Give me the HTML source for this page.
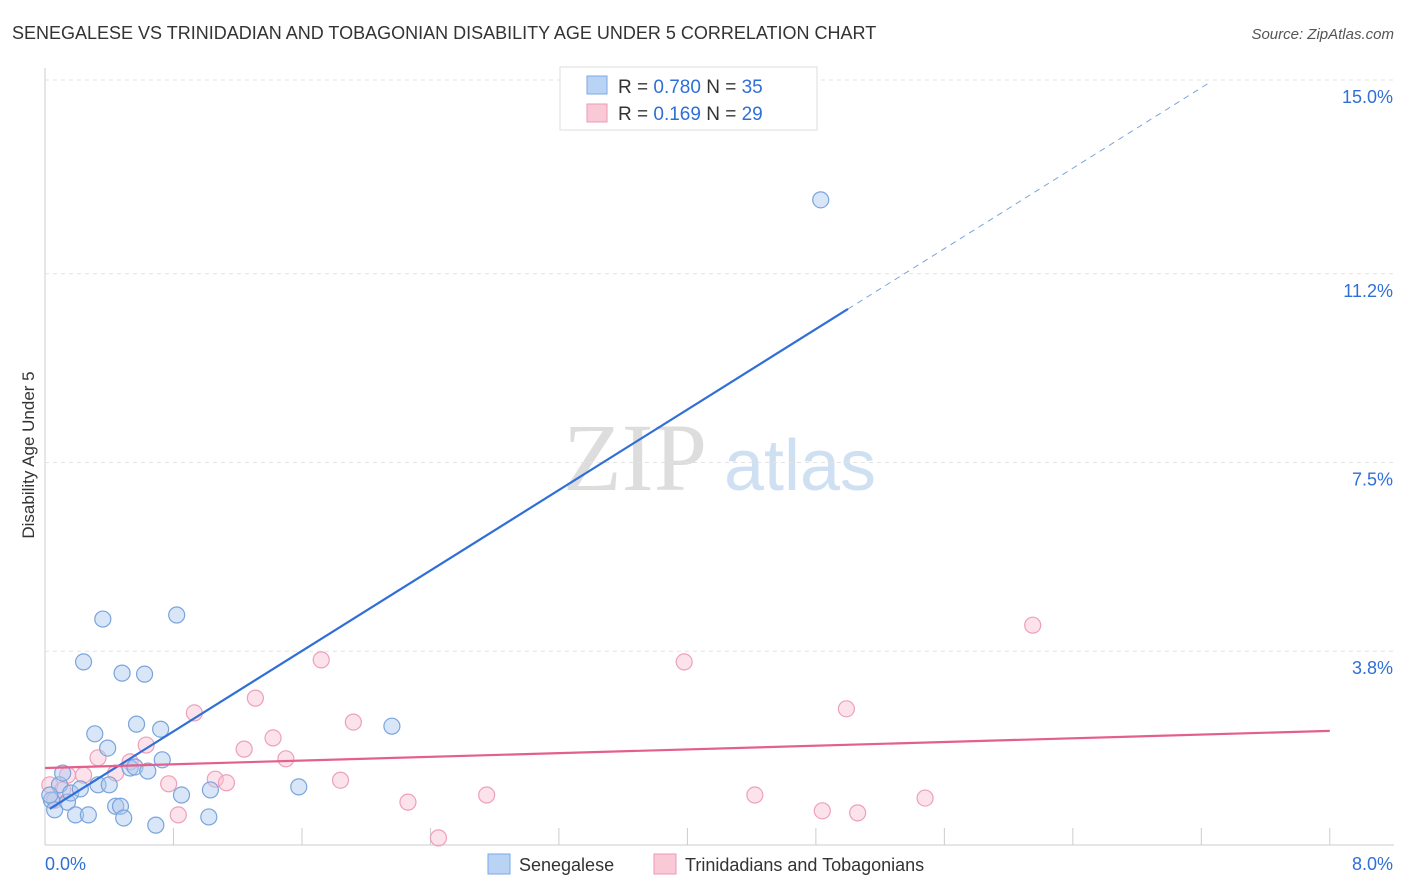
<!DOCTYPE html>
<html><head><meta charset="utf-8"><style>
body{margin:0;background:#fff;font-family:"Liberation Sans",sans-serif}
#c{position:relative;width:1406px;height:892px;overflow:hidden}
</style></head><body>
<div id="c">
<svg id="s" width="1406" height="892" xmlns="http://www.w3.org/2000/svg">
<text x="12" y="39" font-size="18" fill="#333">SENEGALESE VS TRINIDADIAN AND TOBAGONIAN DISABILITY AGE UNDER 5 CORRELATION CHART</text>
<text x="1394" y="39" font-size="15" fill="#555" font-style="italic" text-anchor="end">Source: ZipAtlas.com</text>
<text x="34" y="455" font-size="17" fill="#333" text-anchor="middle" transform="rotate(-90 34 455)">Disability Age Under 5</text>
<g><text x="635" y="490" font-size="96" fill="#ddd" font-family="Liberation Serif,serif" text-anchor="middle">ZIP</text><text x="800" y="490" font-size="72" fill="#cfe0f3" text-anchor="middle">atlas</text></g>
<g id="grid"></g><g id="marks"></g>
<g>
<rect x="560" y="67" width="257" height="63" fill="#fff" stroke="#ddd"/>
<rect x="587" y="76" width="20" height="18" fill="#b9d3f5" stroke="#7aa9e6"/>
<rect x="587" y="104" width="20" height="18" fill="#f9c9d8" stroke="#ee9ab5"/>
<text x="618" y="93" font-size="19" fill="#333">R = <tspan fill="#2f6fd6">0.780</tspan>   N = <tspan fill="#2f6fd6">35</tspan></text>
<text x="618" y="120" font-size="19" fill="#333">R = <tspan fill="#2f6fd6"> 0.169</tspan>   N = <tspan fill="#2f6fd6">29</tspan></text>
</g>
<g>
<rect x="488" y="854" width="22" height="20" fill="#b9d3f5" stroke="#7aa9e6"/>
<text x="519" y="871" font-size="18" fill="#333">Senegalese</text>
<rect x="654" y="854" width="22" height="20" fill="#f9c9d8" stroke="#ee9ab5"/>
<text x="685" y="871" font-size="18" fill="#333">Trinidadians and Tobagonians</text>
</g>
</svg></div>
<script>
const yTicks=[3.8,7.5,11.2,15.0];
const yTickLabels=["3.8%","7.5%","11.2%","15.0%"];
const xTicks=[0,0.8,1.6,2.4,3.2,4.0,4.8,5.6,6.4,7.2,8.0];
const blueX=[0.04,0.06,0.09,0.11,0.14,0.16,0.19,0.22,0.24,0.27,0.31,0.33,0.36,0.39,0.40,0.44,0.47,0.48,0.49,0.53,0.56,0.57,0.62,0.64,0.69,0.72,0.73,0.82,0.85,1.02,1.03,1.58,2.16,4.83,0.03];
const blueY=[0.88,0.69,1.18,1.41,0.84,1.02,0.59,1.10,3.59,0.59,2.18,1.18,4.43,1.90,1.18,0.76,0.76,3.37,0.53,1.51,1.53,2.37,3.35,1.45,0.39,2.27,1.67,4.51,0.98,0.55,1.08,1.14,2.33,12.65,0.98];
const pinkX=[0.03,0.06,0.11,0.14,0.24,0.33,0.44,0.53,0.63,0.77,0.83,0.93,1.06,1.13,1.24,1.31,1.42,1.50,1.72,1.84,1.92,2.26,2.45,2.75,3.98,4.42,4.84,4.99,5.06,5.48,6.15];
const pinkY=[1.18,0.88,1.08,1.37,1.37,1.71,1.41,1.63,1.96,1.20,0.59,2.59,1.29,1.22,1.88,2.88,2.10,1.69,3.63,1.27,2.41,0.84,0.14,0.98,3.59,0.98,0.67,2.67,0.63,0.92,4.31];
const blueLine=[0.65,1.972]; const pinkLine=[1.51,0.091];
const X=v=>45+v*160.6, Y=v=>845-v*51;
const NS="http://www.w3.org/2000/svg";
function mk(t,a,p){const e=document.createElementNS(NS,t);for(const k in a)e.setAttribute(k,a[k]);p.appendChild(e);return e;}
const g=document.getElementById('grid'),m=document.getElementById('marks');
mk('line',{x1:45,y1:845,x2:1394,y2:845,stroke:'#ccc'},g);
mk('line',{x1:45,y1:68,x2:45,y2:845,stroke:'#ccc'},g);
yTicks.forEach((t,i)=>{
const l=mk('line',{x1:45,y1:Y(t),x2:1394,y2:Y(t),stroke:'#e3e3e3','stroke-dasharray':'4 4'},g);


const tx=mk('text',{x:1393,y:Y(t)+23,'font-size':18,fill:'#2f6fd6','text-anchor':'end'},g);tx.textContent=yTickLabels[i];


});
xTicks.forEach(t=>{const l=mk('line',{x1:X(t),y1:828,x2:X(t),y2:845,stroke:'#ccc'},g);

});
[["0.0%",45,'start'],["8.0%",1393,'end']].forEach(a=>{const tx=mk('text',{x:a[1],y:870,'font-size':18,fill:'#2f6fd6','text-anchor':a[2]},g);tx.textContent=a[0];

});
pinkX.forEach((x,i)=>{const c=mk('circle',{cx:X(x),cy:Y(pinkY[i]),r:8,fill:'rgba(248,190,208,0.45)',stroke:'#eea0b9','stroke-width':1.2},m);

});
blueX.forEach((x,i)=>{const c=mk('circle',{cx:X(x),cy:Y(blueY[i]),r:8,fill:'rgba(170,200,240,0.45)',stroke:'#7aa4dc','stroke-width':1.2},m);

});
let l=mk('line',{x1:X(0.03),y1:Y(blueLine[0]+blueLine[1]*0.03),x2:X(5.0),y2:Y(blueLine[0]+blueLine[1]*5.0),stroke:'#2f6fd6','stroke-width':2.2},m);


l=mk('line',{x1:X(5.0),y1:Y(blueLine[0]+blueLine[1]*5.0),x2:X(7.25),y2:Y(blueLine[0]+blueLine[1]*7.25),stroke:'#7aa4dc','stroke-width':1,'stroke-dasharray':'6 5'},m);


l=mk('line',{x1:X(0),y1:Y(pinkLine[0]),x2:X(8),y2:Y(pinkLine[0]+pinkLine[1]*8),stroke:'#e4608c','stroke-width':2.2},m);


</script>
</body></html>
